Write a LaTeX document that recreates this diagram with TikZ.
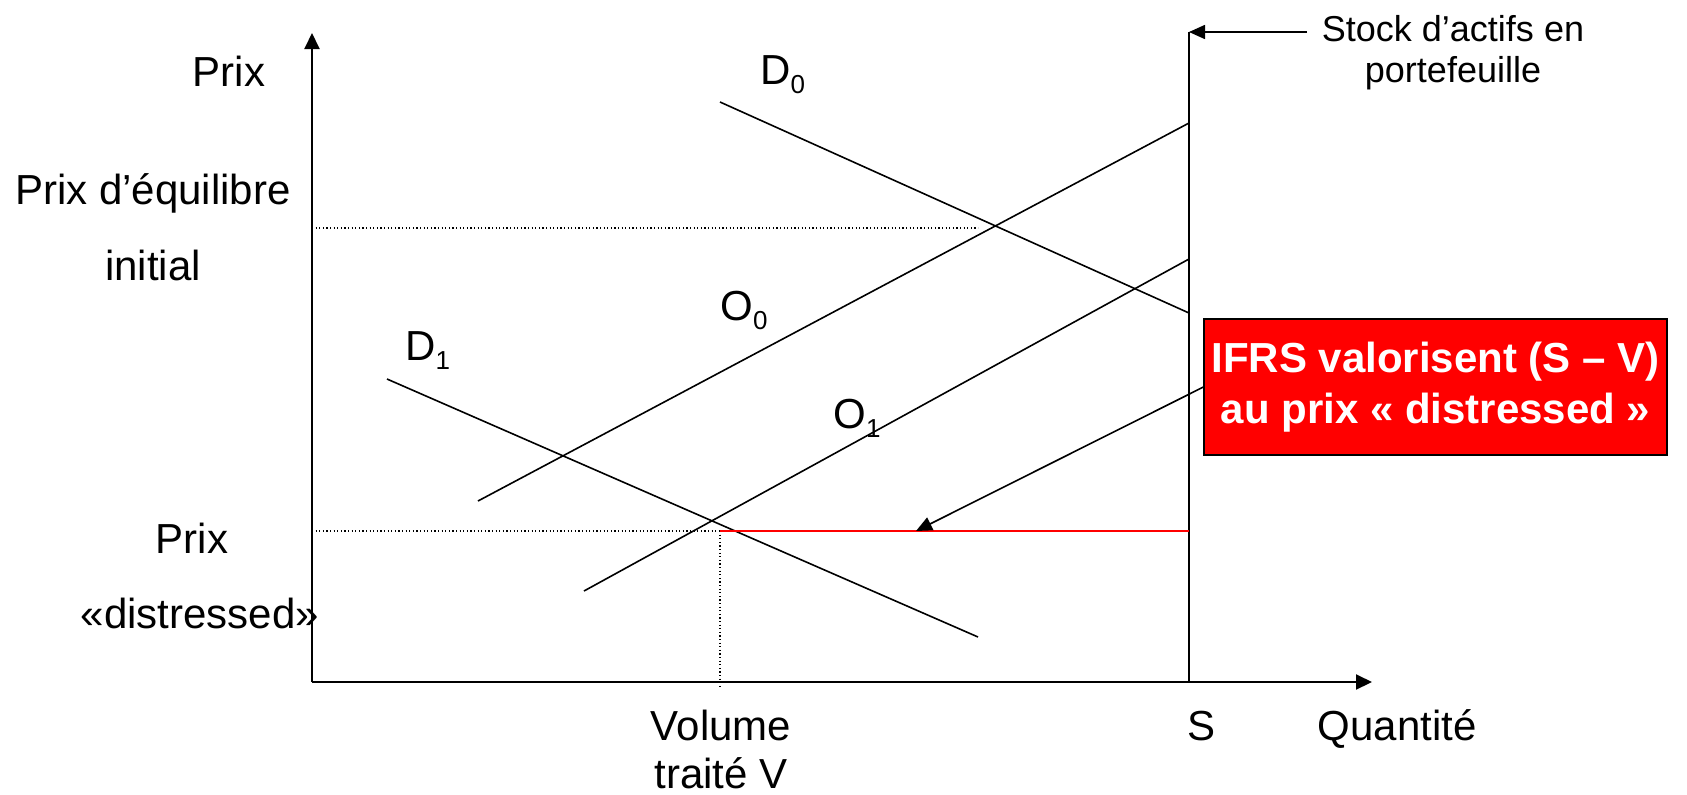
\documentclass[tikz,border=0pt]{standalone}
\usepackage{fontspec}
\setmainfont{Liberation Sans}
\usetikzlibrary{arrows.meta}
\newcommand\mysub[1]{\raisebox{-0.22em}{\fontsize{13}{13}\selectfont #1}}
\begin{document}
\begin{tikzpicture}[x=0.5pt,y=-0.5pt,
  lbl/.style={anchor=base, inner sep=0pt, font=\fontsize{21}{24}\selectfont},
  lblw/.style={anchor=base west, inner sep=0pt, font=\fontsize{21}{24}\selectfont},
  small/.style={anchor=base, inner sep=0pt, font=\fontsize{18}{20}\selectfont},
  curve/.style={line width=0.8pt},
  axis/.style={line width=1pt, -{Triangle[length=8pt,width=7.5pt]}},
  guide/.style={line width=0.6pt, dash pattern=on 0.6pt off 1.2pt},
  redbox/.style={draw=black, line width=0.6pt, fill=red, text=white, inner sep=0pt,
    minimum width=231.5pt, minimum height=68pt, align=center,
    font=\fontsize{21}{25.5}\selectfont\bfseries},
  pointer/.style={line width=0.8pt, -{Triangle[length=8pt,width=7pt]}},
]
\useasboundingbox (0,0) rectangle (1687,794);
% axes
\coordinate (O) at (312,682);
\coordinate (Ytop) at (312,33);
\coordinate (Xend) at (1372,682);
\draw[axis] (O) -- (Ytop);
\draw[axis] (O) -- (Xend);
% stock line S
\coordinate (Sbot) at (1189,682);
\coordinate (Stop) at (1189,32);
\draw[line width=1pt] (Sbot) -- (Stop);
% curves
\coordinate (D0a) at (720,102);   \coordinate (D0b) at (1189,313);
\coordinate (O0a) at (478,501);   \coordinate (O0b) at (1189,123);
\coordinate (D1a) at (387,379);   \coordinate (D1b) at (978,637);
\coordinate (O1a) at (584,591);   \coordinate (O1b) at (1189,259);
\draw[curve] (D0a) -- (D0b);
\draw[curve] (O0a) -- (O0b);
\draw[curve] (D1a) -- (D1b);
\draw[curve] (O1a) -- (O1b);
% guides
\coordinate (Peq) at (312,228);
\coordinate (Peqe) at (978,228);
\draw[guide] (Peq) -- (Peqe);
\coordinate (Pd) at (312,531);
\coordinate (Vd) at (720,531);
\coordinate (Vbot) at (720,688);
\coordinate (Sd) at (1189,531);
\draw[guide] (Pd) -- (Vd);
\draw[guide] (Vd) -- (Vbot);
\draw[red, line width=1pt] (Vd) -- (Sd);
% curve labels
\node[lblw] (lD0) at (760,84) {D\mysub{0}};
\node[lblw] (lO0) at (720,320) {O\mysub{0}};
\node[lblw] (lD1) at (405,360) {D\mysub{1}};
\node[lblw] (lO1) at (833,428) {O\mysub{1}};
% axis labels
\node[lbl] (prix) at (229,86) {Prix};
\node[lbl] (peq1) at (153,204) {Prix d’équilibre};
\node[lbl] (peq2) at (153,280) {initial};
\node[lbl] (pd1) at (192,553) {Prix};
\node[lbl] (pd2) at (200,628) {«distressed»};
\node[lbl] (vol1) at (721,740) {Volume};
\node[lbl] (vol2) at (721,788) {traité V};
\node[lbl] (sl) at (1201,740) {S};
\node[lbl] (qty) at (1397,740) {Quantité};
% stock label
\node[small] (st1) at (1453,41) {Stock d’actifs en};
\node[small] (st2) at (1453,82) {portefeuille};
\coordinate (stA) at (1307,32);
\draw[pointer] (stA) -- (Stop);
% IFRS box
\node[redbox] (ifrs) at (1435.5,387) {IFRS valorisent (S – V)\\au prix « distressed »};
\coordinate (tipR) at (916,531);
\draw[pointer] (ifrs.west) -- (tipR);
\end{tikzpicture}
\end{document}
